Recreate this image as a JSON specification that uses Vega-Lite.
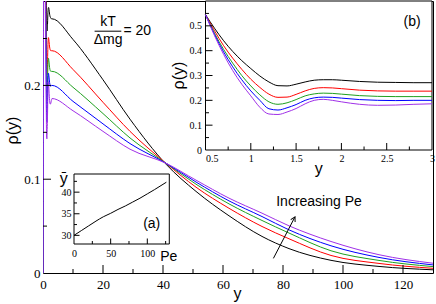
{
  "$schema": "https://vega.github.io/schema/vega-lite/v6.json",
  "width": 390,
  "height": 272,
  "autosize": {"type": "none"},
  "padding": {"left": 43, "top": 1, "right": 3, "bottom": 31},
  "background": "white",
  "config": {
    "view": {"stroke": "black", "strokeWidth": 1},
    "axis": {
      "domain": false, "grid": false, "ticks": false, "zindex": 1, "labelFlush": false, "labelOverlap": false, "labelBound": false,
      "labelFont": "Liberation Serif", "labelColor": "black",
      "titleFont": "Liberation Sans", "titleFontWeight": "normal", "titleColor": "black"
    },
    "text": {"font": "Liberation Sans", "color": "black"},
    "tick": {"opacity": 1, "color": "black", "thickness": 1}
  },
  "datasets": {
    "prof": [
      {"s":"k","x":0,"r":0},{"s":"k","x":0.5,"r":0.545},{"s":"k","x":0.6,"r":0.49},{"s":"k","x":0.7,"r":0.44},{"s":"k","x":0.8,"r":0.397},{"s":"k","x":0.9,"r":0.36},{"s":"k","x":1.0,"r":0.328},{"s":"k","x":1.1,"r":0.298},{"s":"k","x":1.2,"r":0.274},{"s":"k","x":1.3,"r":0.259},{"s":"k","x":1.4,"r":0.258},{"s":"k","x":1.5,"r":0.265},{"s":"k","x":1.6,"r":0.274},{"s":"k","x":1.7,"r":0.281},{"s":"k","x":1.8,"r":0.283},{"s":"k","x":1.9,"r":0.283},{"s":"k","x":2.0,"r":0.281},{"s":"k","x":2.2,"r":0.276},{"s":"k","x":2.4,"r":0.273},{"s":"k","x":2.6,"r":0.272},{"s":"k","x":2.8,"r":0.271},{"s":"k","x":3.0,"r":0.271},
      {"s":"k","x":10,"r":0.249},{"s":"k","x":20,"r":0.206},{"s":"k","x":29,"r":0.164},{"s":"k","x":41,"r":0.116},{"s":"k","x":51,"r":0.087},{"s":"k","x":62,"r":0.061},{"s":"k","x":73,"r":0.039},{"s":"k","x":82,"r":0.026},{"s":"k","x":96,"r":0.0135},{"s":"k","x":112,"r":0.007},{"s":"k","x":130,"r":0.0034},
      {"s":"r","x":0,"r":0},{"s":"r","x":0.5,"r":0.545},{"s":"r","x":0.6,"r":0.48},{"s":"r","x":0.7,"r":0.42},{"s":"r","x":0.8,"r":0.37},{"s":"r","x":0.9,"r":0.325},{"s":"r","x":1.0,"r":0.285},{"s":"r","x":1.1,"r":0.252},{"s":"r","x":1.2,"r":0.225},{"s":"r","x":1.3,"r":0.212},{"s":"r","x":1.4,"r":0.213},{"s":"r","x":1.5,"r":0.224},{"s":"r","x":1.6,"r":0.238},{"s":"r","x":1.7,"r":0.248},{"s":"r","x":1.8,"r":0.251},{"s":"r","x":1.9,"r":0.25},{"s":"r","x":2.0,"r":0.247},{"s":"r","x":2.2,"r":0.241},{"s":"r","x":2.4,"r":0.238},{"s":"r","x":2.6,"r":0.237},{"s":"r","x":2.8,"r":0.237},{"s":"r","x":3.0,"r":0.237},
      {"s":"r","x":10,"r":0.217},{"s":"r","x":20,"r":0.182},{"s":"r","x":29,"r":0.151},{"s":"r","x":41,"r":0.117},{"s":"r","x":51,"r":0.0915},{"s":"r","x":62,"r":0.069},{"s":"r","x":73,"r":0.0496},{"s":"r","x":82,"r":0.0365},{"s":"r","x":96,"r":0.0187},{"s":"r","x":112,"r":0.0102},{"s":"r","x":130,"r":0.005},
      {"s":"g","x":0,"r":0},{"s":"g","x":0.5,"r":0.545},{"s":"g","x":0.6,"r":0.47},{"s":"g","x":0.7,"r":0.405},{"s":"g","x":0.8,"r":0.35},{"s":"g","x":0.9,"r":0.3},{"s":"g","x":1.0,"r":0.258},{"s":"g","x":1.1,"r":0.222},{"s":"g","x":1.2,"r":0.194},{"s":"g","x":1.3,"r":0.184},{"s":"g","x":1.4,"r":0.19},{"s":"g","x":1.5,"r":0.203},{"s":"g","x":1.6,"r":0.218},{"s":"g","x":1.7,"r":0.226},{"s":"g","x":1.8,"r":0.229},{"s":"g","x":1.9,"r":0.228},{"s":"g","x":2.0,"r":0.225},{"s":"g","x":2.2,"r":0.219},{"s":"g","x":2.4,"r":0.216},{"s":"g","x":2.6,"r":0.215},{"s":"g","x":2.8,"r":0.215},{"s":"g","x":3.0,"r":0.215},
      {"s":"g","x":10,"r":0.198},{"s":"g","x":20,"r":0.17},{"s":"g","x":29,"r":0.144},{"s":"g","x":41,"r":0.117},{"s":"g","x":51,"r":0.0947},{"s":"g","x":62,"r":0.0737},{"s":"g","x":73,"r":0.056},{"s":"g","x":82,"r":0.0426},{"s":"g","x":96,"r":0.0237},{"s":"g","x":112,"r":0.0134},{"s":"g","x":130,"r":0.0068},
      {"s":"b","x":0,"r":0},{"s":"b","x":0.5,"r":0.545},{"s":"b","x":0.6,"r":0.465},{"s":"b","x":0.7,"r":0.395},{"s":"b","x":0.8,"r":0.335},{"s":"b","x":0.9,"r":0.283},{"s":"b","x":1.0,"r":0.238},{"s":"b","x":1.1,"r":0.2},{"s":"b","x":1.2,"r":0.166},{"s":"b","x":1.3,"r":0.161},{"s":"b","x":1.4,"r":0.17},{"s":"b","x":1.5,"r":0.183},{"s":"b","x":1.6,"r":0.2},{"s":"b","x":1.7,"r":0.21},{"s":"b","x":1.8,"r":0.213},{"s":"b","x":1.9,"r":0.212},{"s":"b","x":2.0,"r":0.209},{"s":"b","x":2.2,"r":0.203},{"s":"b","x":2.4,"r":0.2},{"s":"b","x":2.6,"r":0.199},{"s":"b","x":2.8,"r":0.2},{"s":"b","x":3.0,"r":0.2},
      {"s":"b","x":10,"r":0.183},{"s":"b","x":20,"r":0.159},{"s":"b","x":29,"r":0.138},{"s":"b","x":41,"r":0.117},{"s":"b","x":51,"r":0.097},{"s":"b","x":62,"r":0.0769},{"s":"b","x":73,"r":0.0602},{"s":"b","x":82,"r":0.046},{"s":"b","x":96,"r":0.029},{"s":"b","x":112,"r":0.0166},{"s":"b","x":130,"r":0.0086},
      {"s":"p","x":0,"r":0},{"s":"p","x":0.5,"r":0.545},{"s":"p","x":0.6,"r":0.46},{"s":"p","x":0.7,"r":0.385},{"s":"p","x":0.8,"r":0.32},{"s":"p","x":0.9,"r":0.265},{"s":"p","x":1.0,"r":0.218},{"s":"p","x":1.1,"r":0.172},{"s":"p","x":1.2,"r":0.145},{"s":"p","x":1.3,"r":0.143},{"s":"p","x":1.4,"r":0.153},{"s":"p","x":1.5,"r":0.167},{"s":"p","x":1.6,"r":0.186},{"s":"p","x":1.7,"r":0.2},{"s":"p","x":1.8,"r":0.204},{"s":"p","x":1.9,"r":0.2},{"s":"p","x":2.0,"r":0.194},{"s":"p","x":2.2,"r":0.184},{"s":"p","x":2.4,"r":0.18},{"s":"p","x":2.6,"r":0.181},{"s":"p","x":2.8,"r":0.184},{"s":"p","x":3.0,"r":0.186},
      {"s":"p","x":10,"r":0.173},{"s":"p","x":20,"r":0.151},{"s":"p","x":29,"r":0.132},{"s":"p","x":41,"r":0.117},{"s":"p","x":51,"r":0.099},{"s":"p","x":62,"r":0.0798},{"s":"p","x":73,"r":0.0638},{"s":"p","x":82,"r":0.0503},{"s":"p","x":96,"r":0.0336},{"s":"p","x":112,"r":0.0195},{"s":"p","x":130,"r":0.0104}
    ],
    "ybar": [
      {"pe":0,"yb":30},{"pe":10,"yb":31.1},{"pe":20,"yb":32.2},{"pe":30,"yb":33.3},{"pe":40,"yb":34.3},{"pe":50,"yb":35.1},{"pe":60,"yb":36.0},{"pe":70,"yb":36.8},{"pe":80,"yb":37.7},{"pe":90,"yb":38.6},{"pe":100,"yb":39.6},{"pe":110,"yb":40.6},{"pe":126,"yb":42.3}
    ],
    "tk": [
      {"a":"mx","v":20,"m":1},{"a":"mx","v":40,"m":1},{"a":"mx","v":60,"m":1},{"a":"mx","v":80,"m":1},{"a":"mx","v":100,"m":1},{"a":"mx","v":120,"m":1},
      {"a":"mx","v":10,"m":0},{"a":"mx","v":30,"m":0},{"a":"mx","v":50,"m":0},{"a":"mx","v":70,"m":0},{"a":"mx","v":90,"m":0},{"a":"mx","v":110,"m":0},
      {"a":"my","v":0.1,"m":1},{"a":"my","v":0.2,"m":1},{"a":"my","v":0.05,"m":0},{"a":"my","v":0.15,"m":0},{"a":"my","v":0.25,"m":0},
      {"a":"bx","v":1,"m":1},{"a":"bx","v":1.5,"m":1},{"a":"bx","v":2,"m":1},{"a":"bx","v":2.5,"m":1},
      {"a":"bx","v":0.75,"m":0},{"a":"bx","v":1.25,"m":0},{"a":"bx","v":1.75,"m":0},{"a":"bx","v":2.25,"m":0},{"a":"bx","v":2.75,"m":0},
      {"a":"by","v":0.1,"m":1},{"a":"by","v":0.2,"m":1},{"a":"by","v":0.3,"m":1},{"a":"by","v":0.4,"m":1},{"a":"by","v":0.5,"m":1},
      {"a":"by","v":0.05,"m":0},{"a":"by","v":0.15,"m":0},{"a":"by","v":0.25,"m":0},{"a":"by","v":0.35,"m":0},{"a":"by","v":0.45,"m":0},{"a":"by","v":0.55,"m":0},
      {"a":"ax","v":50,"m":1},{"a":"ax","v":100,"m":1},{"a":"ax","v":25,"m":0},{"a":"ax","v":75,"m":0},{"a":"ax","v":125,"m":0},
      {"a":"ay","v":30,"m":1},{"a":"ay","v":35,"m":1},{"a":"ay","v":40,"m":1},{"a":"ay","v":32.5,"m":0},{"a":"ay","v":37.5,"m":0},{"a":"ay","v":42.5,"m":0}
    ]
  },
  "layer": [
    {
      "data": {"name": "prof"},
      "mark": {"type": "line", "clip": true, "strokeWidth": 1, "interpolate": "monotone"},
      "encoding": {
        "x": {"field": "x", "type": "quantitative",
          "scale": {"domain": [0, 130], "nice": false, "zero": false},
          "axis": {"orient": "bottom", "values": [0,20,40,60,80,100,120],
            "labelExpr": "'' + datum.value", "labelFontSize": 13, "labelPadding": 5,
            "title": "y", "titleFontSize": 16, "titleX": 194, "titleY": 25, "titleBaseline": "alphabetic", "titleAlign": "center"}},
        "y": {"field": "r", "type": "quantitative",
          "scale": {"domain": [0, 0.29], "nice": false, "zero": false},
          "axis": {"orient": "left", "values": [0,0.1,0.2],
            "labelExpr": "'' + datum.value", "labelFontSize": 13, "labelPadding": 3,
            "title": "ρ(y)", "titleFontSize": 16, "titleX": -31, "titleY": 129, "titleBaseline": "middle", "titleAlign": "center"}},
        "color": {"field": "s", "type": "nominal", "legend": null,
          "scale": {"domain": ["k","r","g","b","p"], "range": ["#000000","#ff0000","#1fa01f","#0000ff","#a030e8"]}},
        "order": {"field": "x", "type": "quantitative"}
      }
    },
    {
      "data": {"name": "tk"},
      "transform": [{"filter": "datum.a == 'mx' && datum.m == 1"}],
      "mark": {"type": "tick", "orient": "vertical", "size": 8, "yOffset": -4},
      "encoding": {
        "x": {"field": "v", "type": "quantitative", "axis": null, "scale": {"domain": [0, 130], "nice": false, "zero": false}},
        "y": {"datum": 0, "type": "quantitative", "axis": null, "scale": {"domain": [0, 0.29], "nice": false, "zero": false}}
      }
    },
    {
      "data": {"name": "tk"},
      "transform": [{"filter": "datum.a == 'mx' && datum.m == 0"}],
      "mark": {"type": "tick", "orient": "vertical", "size": 4, "yOffset": -2},
      "encoding": {
        "x": {"field": "v", "type": "quantitative", "axis": null, "scale": {"domain": [0, 130], "nice": false, "zero": false}},
        "y": {"datum": 0, "type": "quantitative", "axis": null, "scale": {"domain": [0, 0.29], "nice": false, "zero": false}}
      }
    },
    {
      "data": {"name": "tk"},
      "transform": [{"filter": "datum.a == 'my' && datum.m == 1"}],
      "mark": {"type": "tick", "orient": "horizontal", "size": 8, "xOffset": 4},
      "encoding": {
        "x": {"datum": 0, "type": "quantitative", "axis": null, "scale": {"domain": [0, 130], "nice": false, "zero": false}},
        "y": {"field": "v", "type": "quantitative", "axis": null, "scale": {"domain": [0, 0.29], "nice": false, "zero": false}}
      }
    },
    {
      "data": {"name": "tk"},
      "transform": [{"filter": "datum.a == 'my' && datum.m == 0"}],
      "mark": {"type": "tick", "orient": "horizontal", "size": 4, "xOffset": 2},
      "encoding": {
        "x": {"datum": 0, "type": "quantitative", "axis": null, "scale": {"domain": [0, 130], "nice": false, "zero": false}},
        "y": {"field": "v", "type": "quantitative", "axis": null, "scale": {"domain": [0, 0.29], "nice": false, "zero": false}}
      }
    },
    {
      "data": {"values": [{"x": 21.7, "y": 0.2673, "t": "kT"}, {"x": 21.7, "y": 0.2486, "t": "Δmg"}, {"x": 92, "y": 0.0759, "t": "Increasing Pe"}]},
      "mark": {"type": "text", "fontSize": 14, "align": "center", "baseline": "middle"},
      "encoding": {
        "x": {"field": "x", "type": "quantitative", "axis": null, "scale": {"domain": [0, 130], "nice": false, "zero": false}},
        "y": {"field": "y", "type": "quantitative", "axis": null, "scale": {"domain": [0, 0.29], "nice": false, "zero": false}},
        "text": {"field": "t"}
      }
    },
    {
      "data": {"values": [{"x": 26.8, "y": 0.2578, "t": "= 20"}]},
      "mark": {"type": "text", "fontSize": 14, "align": "left", "baseline": "middle"},
      "encoding": {
        "x": {"field": "x", "type": "quantitative", "axis": null, "scale": {"domain": [0, 130], "nice": false, "zero": false}},
        "y": {"field": "y", "type": "quantitative", "axis": null, "scale": {"domain": [0, 0.29], "nice": false, "zero": false}},
        "text": {"field": "t"}
      }
    },
    {
      "data": {"values": [{"x": 17.2, "x2": 26.1, "y": 0.2578, "y2": 0.2578}, {"x": 76.8, "x2": 84, "y": 0.0156, "y2": 0.0599}]},
      "mark": {"type": "rule", "color": "black", "strokeWidth": 1},
      "encoding": {
        "x": {"field": "x", "type": "quantitative", "axis": null, "scale": {"domain": [0, 130], "nice": false, "zero": false}},
        "x2": {"field": "x2"},
        "y": {"field": "y", "type": "quantitative", "axis": null, "scale": {"domain": [0, 0.29], "nice": false, "zero": false}},
        "y2": {"field": "y2"}
      }
    },
    {
      "data": {"values": [{"x": 84, "y": 0.0599}]},
      "mark": {"type": "point", "shape": "M-0.55,1L0,0L0.55,1", "filled": false, "stroke": "black", "strokeWidth": 1, "size": 80, "angle": 27.5, "opacity": 1},
      "encoding": {
        "x": {"field": "x", "type": "quantitative", "axis": null, "scale": {"domain": [0, 130], "nice": false, "zero": false}},
        "y": {"field": "y", "type": "quantitative", "axis": null, "scale": {"domain": [0, 0.29], "nice": false, "zero": false}}
      }
    },
    {
      "data": {"values": [{"x0": 0.5, "x1": 3, "y0": 0, "y1": 0.6}]},
      "mark": {"type": "rect", "fill": "white", "stroke": "black", "strokeWidth": 1},
      "encoding": {
        "x": {"field": "x0", "type": "quantitative",
          "scale": {"domain": [0.5, 3], "range": [162.5, 389], "nice": false, "zero": false},
          "axis": {"orient": "bottom", "offset": -123, "values": [0.5,1,1.5,2,2.5,3],
            "labelExpr": "'' + datum.value", "labelFontSize": 10, "labelPadding": 3,
            "labelAlign": {"condition": {"test": "datum.value == 0.5", "value": "left"}, "value": "center"},
            "title": "y", "titleFontSize": 16, "titleX": 275.3, "titleY": 23, "titleBaseline": "alphabetic", "titleAlign": "center"}},
        "x2": {"field": "x1"},
        "y": {"field": "y0", "type": "quantitative",
          "scale": {"domain": [0, 0.6], "range": [149, 0], "nice": false, "zero": false},
          "axis": {"orient": "left", "offset": -162.5, "values": [0,0.1,0.2,0.3,0.4,0.5],
            "labelExpr": "'' + datum.value", "labelFontSize": 10, "labelPadding": 4,
            "title": "ρ(y)", "titleFontSize": 16, "titleX": -27, "titleY": 74, "titleBaseline": "middle", "titleAlign": "center"}},
        "y2": {"field": "y1"}
      }
    },
    {
      "data": {"name": "prof"},
      "transform": [{"filter": "datum.x >= 0.5 && datum.x <= 3"}],
      "mark": {"type": "line", "clip": true, "strokeWidth": 1, "interpolate": "monotone"},
      "encoding": {
        "x": {"field": "x", "type": "quantitative", "axis": null, "scale": {"domain": [0.5, 3], "range": [162.5, 389], "nice": false, "zero": false}},
        "y": {"field": "r", "type": "quantitative", "axis": null, "scale": {"domain": [0, 0.6], "range": [149, 0], "nice": false, "zero": false}},
        "color": {"field": "s", "type": "nominal", "legend": null,
          "scale": {"domain": ["k","r","g","b","p"], "range": ["#000000","#ff0000","#1fa01f","#0000ff","#a030e8"]}},
        "order": {"field": "x", "type": "quantitative"}
      }
    },
    {
      "data": {"name": "tk"},
      "transform": [{"filter": "datum.a == 'bx' && datum.m == 1"}],
      "mark": {"type": "tick", "orient": "vertical", "size": 7, "yOffset": -3.5},
      "encoding": {
        "x": {"field": "v", "type": "quantitative", "axis": null, "scale": {"domain": [0.5, 3], "range": [162.5, 389], "nice": false, "zero": false}},
        "y": {"datum": 0, "type": "quantitative", "axis": null, "scale": {"domain": [0, 0.6], "range": [149, 0], "nice": false, "zero": false}}
      }
    },
    {
      "data": {"name": "tk"},
      "transform": [{"filter": "datum.a == 'bx' && datum.m == 0"}],
      "mark": {"type": "tick", "orient": "vertical", "size": 3.5, "yOffset": -1.75},
      "encoding": {
        "x": {"field": "v", "type": "quantitative", "axis": null, "scale": {"domain": [0.5, 3], "range": [162.5, 389], "nice": false, "zero": false}},
        "y": {"datum": 0, "type": "quantitative", "axis": null, "scale": {"domain": [0, 0.6], "range": [149, 0], "nice": false, "zero": false}}
      }
    },
    {
      "data": {"name": "tk"},
      "transform": [{"filter": "datum.a == 'by' && datum.m == 1"}],
      "mark": {"type": "tick", "orient": "horizontal", "size": 7, "xOffset": 3.5},
      "encoding": {
        "x": {"datum": 0.5, "type": "quantitative", "axis": null, "scale": {"domain": [0.5, 3], "range": [162.5, 389], "nice": false, "zero": false}},
        "y": {"field": "v", "type": "quantitative", "axis": null, "scale": {"domain": [0, 0.6], "range": [149, 0], "nice": false, "zero": false}}
      }
    },
    {
      "data": {"name": "tk"},
      "transform": [{"filter": "datum.a == 'by' && datum.m == 0"}],
      "mark": {"type": "tick", "orient": "horizontal", "size": 3.5, "xOffset": 1.75},
      "encoding": {
        "x": {"datum": 0.5, "type": "quantitative", "axis": null, "scale": {"domain": [0.5, 3], "range": [162.5, 389], "nice": false, "zero": false}},
        "y": {"field": "v", "type": "quantitative", "axis": null, "scale": {"domain": [0, 0.6], "range": [149, 0], "nice": false, "zero": false}}
      }
    },
    {
      "data": {"values": [{"x": 2.78, "y": 0.517, "t": "(b)"}]},
      "mark": {"type": "text", "fontSize": 14, "align": "center", "baseline": "middle"},
      "encoding": {
        "x": {"field": "x", "type": "quantitative", "axis": null, "scale": {"domain": [0.5, 3], "range": [162.5, 389], "nice": false, "zero": false}},
        "y": {"field": "y", "type": "quantitative", "axis": null, "scale": {"domain": [0, 0.6], "range": [149, 0], "nice": false, "zero": false}},
        "text": {"field": "t"}
      }
    },
    {
      "data": {"values": [{"x0": 0, "x1": 130, "y0": 28, "y1": 44.2}]},
      "mark": {"type": "rect", "fill": "white", "stroke": "black", "strokeWidth": 1},
      "encoding": {
        "x": {"field": "x0", "type": "quantitative",
          "scale": {"domain": [0, 130], "range": [31, 126.3], "nice": false, "zero": false},
          "axis": {"orient": "bottom", "offset": -29, "values": [0,50,100],
            "labelExpr": "'' + datum.value", "labelFontSize": 10, "labelPadding": 4.5,
            "title": "Pe", "titleFontSize": 14, "titleX": 125.3, "titleY": 12.7, "titleBaseline": "middle", "titleAlign": "center"}},
        "x2": {"field": "x1"},
        "y": {"field": "y0", "type": "quantitative",
          "scale": {"domain": [28, 44.2], "range": [243, 173], "nice": false, "zero": false},
          "axis": {"orient": "left", "offset": -31, "values": [30,35,40],
            "labelExpr": "'' + datum.value", "labelFontSize": 10, "labelPadding": 3,
            "title": "ȳ", "titleFontSize": 16, "titleAngle": 0, "titleX": -10.7, "titleY": 177.3, "titleBaseline": "middle", "titleAlign": "center"}},
        "y2": {"field": "y1"}
      }
    },
    {
      "data": {"name": "ybar"},
      "mark": {"type": "line", "color": "black", "strokeWidth": 1, "interpolate": "monotone"},
      "encoding": {
        "x": {"field": "pe", "type": "quantitative", "axis": null, "scale": {"domain": [0, 130], "range": [31, 126.3], "nice": false, "zero": false}},
        "y": {"field": "yb", "type": "quantitative", "axis": null, "scale": {"domain": [28, 44.2], "range": [243, 173], "nice": false, "zero": false}}
      }
    },
    {
      "data": {"name": "tk"},
      "transform": [{"filter": "datum.a == 'ax' && datum.m == 1"}],
      "mark": {"type": "tick", "orient": "vertical", "size": 5.5, "yOffset": -2.75},
      "encoding": {
        "x": {"field": "v", "type": "quantitative", "axis": null, "scale": {"domain": [0, 130], "range": [31, 126.3], "nice": false, "zero": false}},
        "y": {"datum": 28, "type": "quantitative", "axis": null, "scale": {"domain": [28, 44.2], "range": [243, 173], "nice": false, "zero": false}}
      }
    },
    {
      "data": {"name": "tk"},
      "transform": [{"filter": "datum.a == 'ax' && datum.m == 0"}],
      "mark": {"type": "tick", "orient": "vertical", "size": 3, "yOffset": -1.5},
      "encoding": {
        "x": {"field": "v", "type": "quantitative", "axis": null, "scale": {"domain": [0, 130], "range": [31, 126.3], "nice": false, "zero": false}},
        "y": {"datum": 28, "type": "quantitative", "axis": null, "scale": {"domain": [28, 44.2], "range": [243, 173], "nice": false, "zero": false}}
      }
    },
    {
      "data": {"name": "tk"},
      "transform": [{"filter": "datum.a == 'ay' && datum.m == 1"}],
      "mark": {"type": "tick", "orient": "horizontal", "size": 5.5, "xOffset": 2.75},
      "encoding": {
        "x": {"datum": 0, "type": "quantitative", "axis": null, "scale": {"domain": [0, 130], "range": [31, 126.3], "nice": false, "zero": false}},
        "y": {"field": "v", "type": "quantitative", "axis": null, "scale": {"domain": [28, 44.2], "range": [243, 173], "nice": false, "zero": false}}
      }
    },
    {
      "data": {"name": "tk"},
      "transform": [{"filter": "datum.a == 'ay' && datum.m == 0"}],
      "mark": {"type": "tick", "orient": "horizontal", "size": 3, "xOffset": 1.5},
      "encoding": {
        "x": {"datum": 0, "type": "quantitative", "axis": null, "scale": {"domain": [0, 130], "range": [31, 126.3], "nice": false, "zero": false}},
        "y": {"field": "v", "type": "quantitative", "axis": null, "scale": {"domain": [28, 44.2], "range": [243, 173], "nice": false, "zero": false}}
      }
    },
    {
      "data": {"values": [{"x": 106, "y": 32.6, "t": "(a)"}]},
      "mark": {"type": "text", "fontSize": 14, "align": "center", "baseline": "middle"},
      "encoding": {
        "x": {"field": "x", "type": "quantitative", "axis": null, "scale": {"domain": [0, 130], "range": [31, 126.3], "nice": false, "zero": false}},
        "y": {"field": "y", "type": "quantitative", "axis": null, "scale": {"domain": [28, 44.2], "range": [243, 173], "nice": false, "zero": false}},
        "text": {"field": "t"}
      }
    }
  ],
  "resolve": {"scale": {"x": "independent", "y": "independent", "color": "independent"}}
}
